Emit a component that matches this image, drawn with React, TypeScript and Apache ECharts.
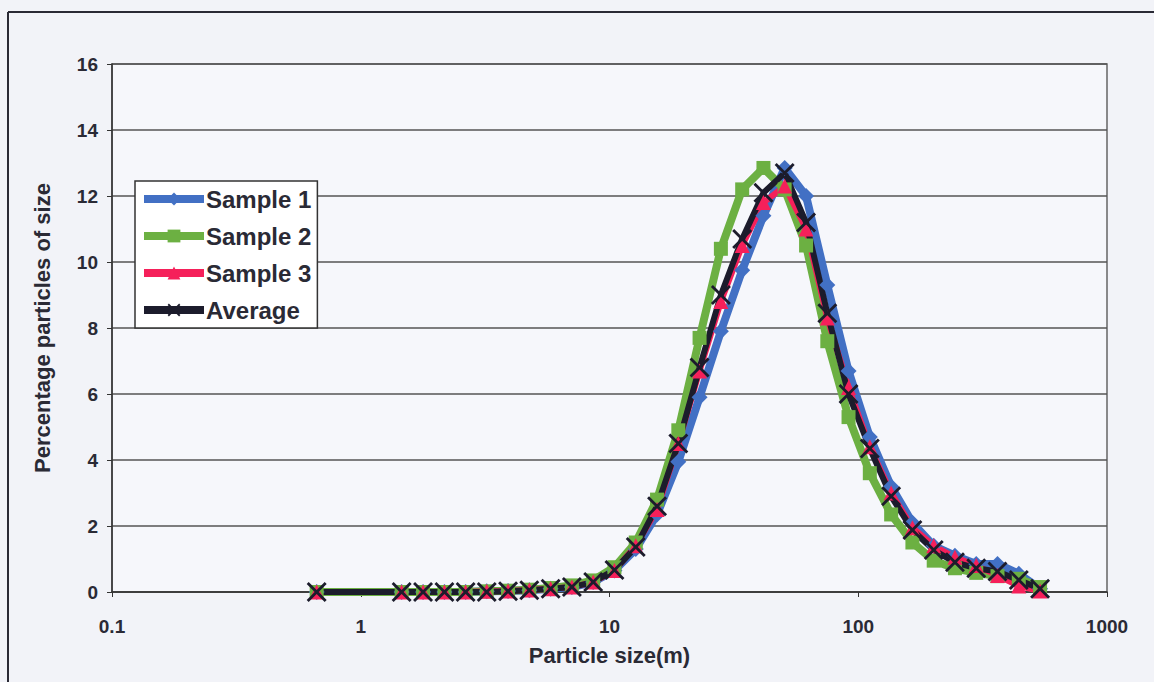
import React, { useEffect, useRef } from "react";
import * as echarts from "echarts";

const sizes = [0.665, 1.46, 1.78, 2.17, 2.64, 3.21, 3.91, 4.76, 5.8, 7.06, 8.6, 10.47, 12.75, 15.53, 18.91, 23.02, 28.04, 34.15, 41.58, 50.6, 61.7, 75.1, 91.4, 111.3, 135.6, 165.1, 201.1, 244.8, 298.1, 362.9, 442.0, 538.2];
const sample1 = [0, 0, 0, 0, 0, 0.02, 0.03, 0.05, 0.1, 0.15, 0.3, 0.65, 1.3, 2.35, 3.95, 5.9, 7.9, 9.75, 11.4, 12.85, 12.0, 9.3, 6.7, 4.7, 3.2, 2.1, 1.4, 1.1, 0.85, 0.85, 0.55, 0.1];
const sample2 = [0, 0, 0, 0, 0, 0.02, 0.04, 0.07, 0.12, 0.2, 0.35, 0.75, 1.5, 2.8, 4.9, 7.7, 10.4, 12.2, 12.85, 12.2, 10.5, 7.6, 5.3, 3.6, 2.35, 1.5, 0.95, 0.72, 0.58, 0.48, 0.4, 0.15];
const sample3 = [0, 0, 0, 0, 0, 0.02, 0.03, 0.06, 0.1, 0.15, 0.3, 0.65, 1.4, 2.5, 4.5, 6.7, 8.8, 10.5, 11.8, 12.3, 11.0, 8.3, 6.2, 4.4, 3.0, 1.95, 1.4, 1.05, 0.8, 0.5, 0.18, 0.03];
const average = [0, 0, 0, 0, 0, 0.0, 0.02, 0.05, 0.1, 0.15, 0.3, 0.67, 1.36, 2.6, 4.5, 6.8, 9.0, 10.7, 12.1, 12.7, 11.2, 8.45, 6.0, 4.35, 2.9, 1.88, 1.27, 0.9, 0.72, 0.62, 0.36, 0.1];
const seriesNames = ["Sample 1", "Sample 2", "Sample 3", "Average"];
const xTickLabels = ["0.1", "1", "10", "100", "1000"];

const X_SYMBOL = "path://M0,2 L2,0 L10,8 L18,0 L20,2 L12,10 L20,18 L18,20 L10,12 L2,20 L0,18 L8,10 Z";
const FONT = "'Liberation Sans', Arial, sans-serif";

export default function App() {
  const ref = useRef<HTMLDivElement>(null);
  useEffect(() => {
    if (!ref.current) return;
    const chart = echarts.init(ref.current, null, { renderer: "svg" });
    const toPts = (v: number[]) => sizes.map((s, i) => [s, v[i]]);
    const mk = (name: string, data: number[], color: string, symbol: string, symbolSize: number, width: number) => ({
      name,
      type: "line",
      data: toPts(data),
      symbol,
      symbolSize,
      showAllSymbol: true,
      lineStyle: { color, width },
      itemStyle: { color, borderWidth: 0 },
      emphasis: { disabled: true },
    });
    chart.setOption({
      animation: false,
      backgroundColor: "#f2f3f8",
      grid: {
        left: 112,
        right: 47,
        top: 64,
        bottom: 90,
        show: true,
        backgroundColor: "#f6f7fb",
        borderColor: "#666",
        borderWidth: 1.5,
      },
      legend: {
        data: seriesNames,
        orient: "vertical",
        left: 135,
        top: 181,
        itemWidth: 60,
        itemHeight: 16,
        itemGap: 13,
        padding: [6, 6, 6, 5],
        backgroundColor: "#ffffff",
        borderColor: "#333",
        borderWidth: 1.5,
        lineStyle: { width: 8 },
        textStyle: { fontFamily: FONT, fontWeight: "bold", fontSize: 24, color: "#2a2a35", padding: [0, 0, 0, -3] },
      },
      xAxis: {
        type: "log",
        logBase: 10,
        min: 0.1,
        max: 1000,
        name: "Particle size(m)",
        nameLocation: "middle",
        nameGap: 52,
        nameTextStyle: { fontFamily: FONT, fontWeight: "bold", fontSize: 22, color: "#2a2a35" },
        axisLine: { lineStyle: { color: "#333", width: 1.5 } },
        axisTick: { show: true, length: 5, inside: false, lineStyle: { color: "#333" } },
        axisLabel: {
          margin: 25,
          fontFamily: FONT,
          fontWeight: "bold",
          fontSize: 19,
          color: "#2a2a35",
          formatter: (v: number) => {
            const idx = Math.round(Math.log10(v)) + 1;
            return xTickLabels[idx] ?? String(v);
          },
        },
        splitLine: { show: false },
        minorTick: { show: false },
      },
      yAxis: {
        type: "value",
        min: 0,
        max: 16,
        interval: 2,
        name: "Percentage particles of size",
        nameLocation: "middle",
        nameGap: 59,
        nameTextStyle: { fontFamily: FONT, fontWeight: "bold", fontSize: 22, color: "#2a2a35" },
        axisLine: { show: true, lineStyle: { color: "#333", width: 1.5 } },
        axisTick: { show: true, length: 5, lineStyle: { color: "#333" } },
        axisLabel: { margin: 14, fontFamily: FONT, fontWeight: "bold", fontSize: 19, color: "#2a2a35" },
        splitLine: { show: true, lineStyle: { color: "#555", width: 1.5 } },
      },
      graphic: [
        { type: "line", shape: { x1: 8, y1: 12, x2: 1154, y2: 12 }, style: { stroke: "#2a2a35", lineWidth: 2 } },
        { type: "line", shape: { x1: 8, y1: 12, x2: 8, y2: 682 }, style: { stroke: "#2a2a35", lineWidth: 2 } },
      ],
      series: [
        mk(seriesNames[0], sample1, "#4270c4", "diamond", 16, 8),
        mk(seriesNames[1], sample2, "#6cb042", "rect", 14, 8),
        mk(seriesNames[2], sample3, "#f5205a", "triangle", 15, 6),
        mk(seriesNames[3], average, "#1c1c2c", X_SYMBOL, 20, 6),
      ],
    });
    return () => chart.dispose();
  }, []);
  return (
    <div
      ref={ref}
      style={{ position: "absolute", left: 0, top: 0, width: 1154, height: 682 }}
    />
  );
}
